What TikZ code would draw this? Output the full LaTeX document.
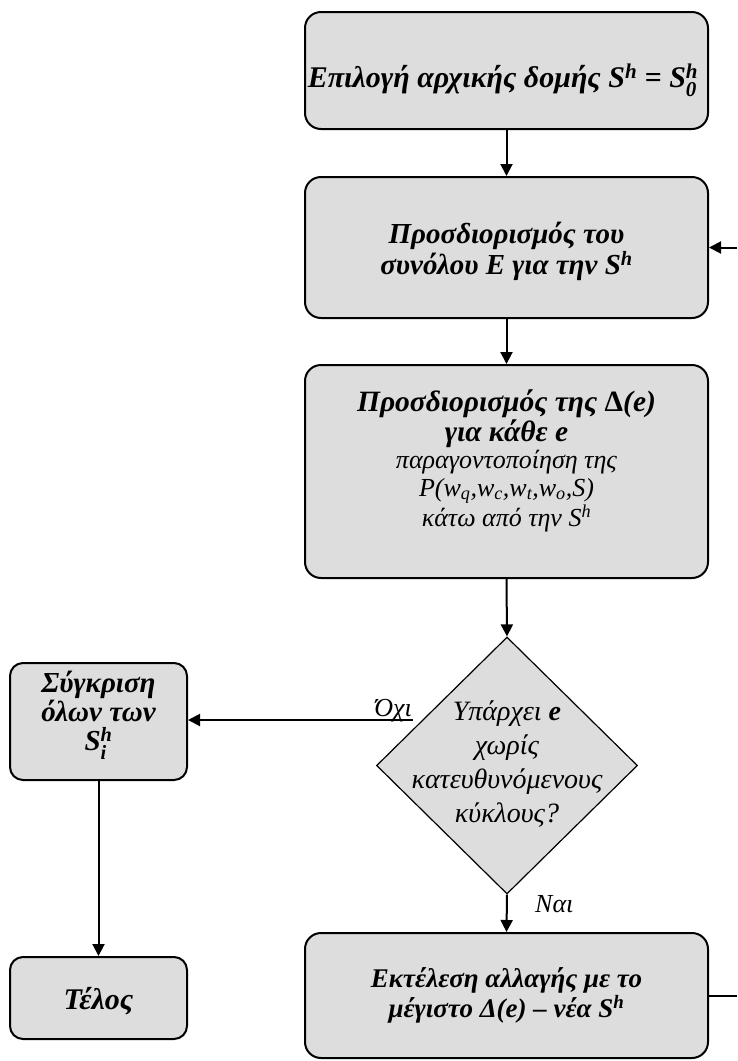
\documentclass[tikz,border=0pt]{standalone}
\usepackage{amsmath}
\usepackage{fontspec}
\setmainfont{Liberation Serif}
\usetikzlibrary{arrows.meta,shapes.geometric}
\definecolor{boxgray}{RGB}{221,221,221}
% stacked sub/superscript after a letter, set in the text font
\newcommand{\subsupstack}[2]{$_{\text{#1}}^{\text{#2}}$}
\tikzset{
  x=1pt, y=-1pt,
  flowbox/.style={draw, line width=2pt, fill=boxgray, rounded corners=16pt, inner sep=0pt},
  smallbox/.style={flowbox, rounded corners=13pt},
  decision/.style={diamond, draw, line width=1.2pt, fill=boxgray, inner sep=0pt, aspect=1},
  boldtxt/.style={align=center, inner sep=0pt, font=\bfseries\itshape\fontsize{28}{30}\selectfont},
  plaintxt/.style={align=center, inner sep=0pt, font=\itshape\fontsize{25}{28}\selectfont},
  lbl/.style={inner sep=0pt, font=\itshape\fontsize{26}{28}\selectfont},
  conn/.style={line width=2pt, -{Triangle[length=12pt,width=12pt]}},
  plainconn/.style={line width=2pt}
}
\begin{document}
\begin{tikzpicture}
\useasboundingbox (0,0) rectangle (737,1061);

% process boxes on the main column
\node[flowbox, minimum width=403pt, minimum height=117pt] (start) at (506.5,70.5) {};
\node[flowbox, minimum width=403pt, minimum height=141pt] (setE) at (506.5,247.5) {};
\node[flowbox, minimum width=403pt, minimum height=213pt] (delta) at (506.5,471.5) {};
\node[decision, minimum width=261pt, minimum height=257pt] (dec) at (507,765.5) {};
\node[flowbox, minimum width=403pt, minimum height=125pt] (apply) at (506.5,995.5) {};

% boxes on the left column
\node[smallbox, minimum width=177pt, minimum height=117pt] (cmp) at (98.5,721.5) {};
\node[smallbox, minimum width=177pt, minimum height=82pt] (stop) at (98.5,998) {};

% texts
\node[boldtxt, font=\bfseries\itshape\fontsize{30}{32}\selectfont] (startT) at (503,80)
  {Επιλογή αρχικής δομής S\textsuperscript{h} = S\subsupstack{0}{h}};
\node[boldtxt, font=\bfseries\itshape\fontsize{29}{31}\selectfont] (setET) at (506.5,251)
  {Προσδιορισμός του\\συνόλου E για την S\textsuperscript{h}};
\node[plaintxt, font=\itshape\fontsize{26}{27.5}\selectfont] (deltaT) at (506.5,461)
  {{\bfseries\fontsize{29.5}{27.5}\selectfont Προσδιορισμός της {\upshape Δ}(e)}\\
   {\bfseries\fontsize{29.5}{27.5}\selectfont για κάθε e}\\
   παραγοντοποίηση της\\
   P(w\textsubscript{q},w\textsubscript{c},w\textsubscript{t},w\textsubscript{o},S)\\
   κάτω από την S\textsuperscript{h}};
\node[plaintxt, font=\itshape\fontsize{28}{34}\selectfont] (decT) at (507,764)
  {Υπάρχει \textbf{e}\\χωρίς\\κατευθυνόμενους\\κύκλους?};
\node[boldtxt, font=\bfseries\itshape\fontsize{29}{29}\selectfont] (cmpT) at (98.5,715)
  {Σύγκριση\\όλων των\\S\subsupstack{i}{h}};
\node[boldtxt, font=\bfseries\itshape\fontsize{30}{32}\selectfont] (stopT) at (98.5,1001) {Τέλος};
\node[boldtxt, font=\bfseries\itshape\fontsize{27}{30}\selectfont] (applyT) at (506.5,995)
  {Εκτέλεση αλλαγής με το\\μέγιστο Δ(e) – νέα S\textsuperscript{h}};

% connectors
\draw[conn] (start.south) -- (setE.north);
\draw[conn] (setE.south) -- (delta.north);
\draw[conn] (delta.south) -- (dec.north);
\draw[conn] (dec.south) -- (apply.north);
\coordinate (noEnd) at (413,720);
\draw[conn] (noEnd) -- (noEnd -| cmp.east);
\draw[conn] (cmp.south) -- (stop.north);

% loop back to the set E box
\coordinate (loopOut) at (737,995.5);
\coordinate (loopIn) at (737,247.5);
\draw[plainconn] (apply.east) -- (loopOut);
\draw[conn] (loopIn) -- (setE.east);

% branch labels
\node[lbl, anchor=base east] (noLbl) at (412,716) {Όχι};
\node[lbl, anchor=base west] (yesLbl) at (535,912) {Ναι};
\end{tikzpicture}
\end{document}
